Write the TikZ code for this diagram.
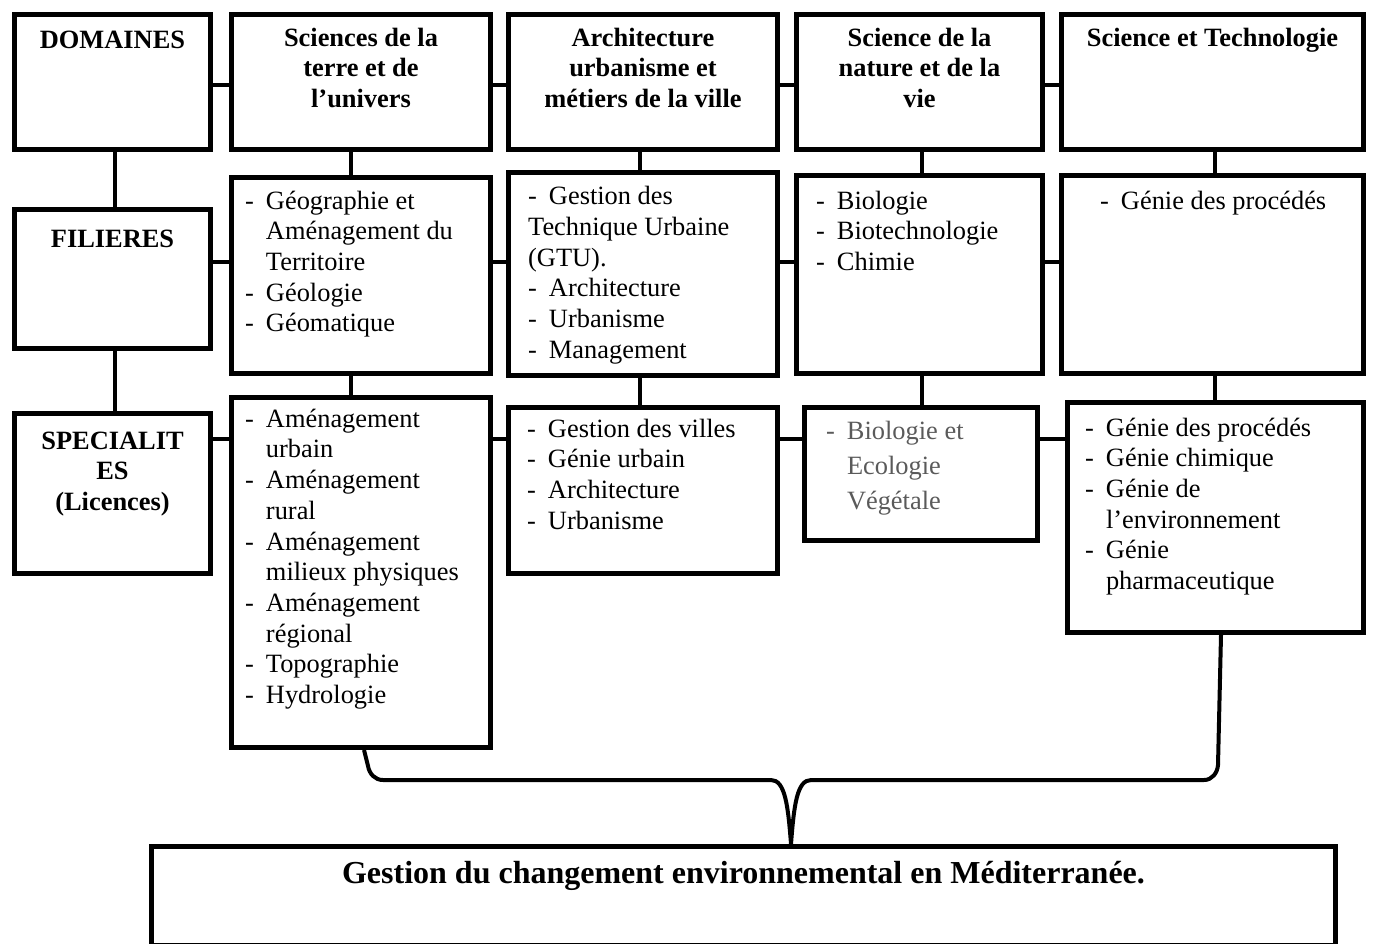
\documentclass[tikz,border=0pt]{standalone}
\usepackage{fontspec}
\setmainfont{Liberation Serif}
\usetikzlibrary{calc}
\definecolor{specgray}{HTML}{5A5A5A}
\tikzset{cell/.style={draw,line width=5pt,anchor=north west,inner sep=0pt},
  link/.style={line width=4pt},
  head/.style={anchor=north,inner sep=0pt,font=\bfseries\fontsize{26.4}{30.7}\selectfont},
  item/.style={anchor=north west,inner sep=0pt,font=\fontsize{26.4}{30.7}\selectfont}}
\newcommand{\lst}[1]{\begin{tabular}{@{}l@{\hspace{12pt}}l@{}}#1\end{tabular}}
\newcommand{\ctr}[1]{\begin{tabular}{@{}c@{}}#1\end{tabular}}

\begin{document}
\begin{tikzpicture}[x=1pt,y=-1pt]
  \useasboundingbox (0,0) rectangle (1373,943);

  \coordinate (v0) at (115,0);
  \coordinate (v1) at (351,0);
  \coordinate (v2) at (640,0);
  \coordinate (v3) at (922,0);
  \coordinate (v4) at (1215,0);
  \coordinate (r1) at (0,85);
  \coordinate (r2) at (0,262);
  \coordinate (r3) at (0,439);

  % left column
  \node[cell,minimum width=196pt,minimum height=135pt] (dom) at (12,12) {};
  \node[cell,minimum width=196pt,minimum height=139pt] (fil) at (12,207) {};
  \node[cell,minimum width=196pt,minimum height=160pt] (spe) at (12,411) {};
  \node[head] (domtxt) at ([yshift=-14.5pt]dom.north) {\ctr{DOMAINES}};
  \node[head] (filtxt) at ([yshift=-18.5pt]fil.north) {\ctr{FILIERES}};
  \node[head] (spetxt) at ([yshift=-16.5pt]spe.north) {\ctr{SPECIALIT\\ES\\(Licences)}};

  % domaines
  \node[cell,minimum width=259pt,minimum height=135pt] (t1) at (229,12) {};
  \node[cell,minimum width=269pt,minimum height=135pt] (t2) at (506,12) {};
  \node[cell,minimum width=246pt,minimum height=135pt] (t3) at (794,12) {};
  \node[cell,minimum width=302pt,minimum height=135pt] (t4) at (1059,12) {};
  \node[head] (t1txt) at ([yshift=-12.5pt]t1.north) {\ctr{Sciences de la\\terre et de\\l’univers}};
  \node[head] (t2txt) at ([yshift=-12.5pt]t2.north) {\ctr{Architecture\\urbanisme et\\métiers de la ville}};
  \node[head] (t3txt) at ([yshift=-12.5pt]t3.north) {\ctr{Science de la\\nature et de la\\vie}};
  \node[head] (t4txt) at ([yshift=-12.5pt]t4.north) {\ctr{Science et Technologie}};

  % filieres
  \node[cell,minimum width=259pt,minimum height=196pt] (f1) at (229,175) {};
  \node[cell,minimum width=269pt,minimum height=203pt] (f2) at (506,170) {};
  \node[cell,minimum width=246pt,minimum height=198pt] (f3) at (794,173) {};
  \node[cell,minimum width=302pt,minimum height=198pt] (f4) at (1059,173) {};
  \node[item] (f1txt) at ([xshift=16pt,yshift=-12.5pt]f1.north west)
    {\lst{- & Géographie et\\ & Aménagement du\\ & Territoire\\- & Géologie\\- & Géomatique}};
  \node[item] (f2txt) at ([xshift=22pt,yshift=-13pt]f2.north west)
    {\lst{- & Gestion des\\\multicolumn{2}{@{}l@{}}{Technique Urbaine}\\\multicolumn{2}{@{}l@{}}{(GTU).}\\- & Architecture\\- & Urbanisme\\- & Management}};
  \node[item] (f3txt) at ([xshift=22pt,yshift=-14.5pt]f3.north west)
    {\lst{- & Biologie\\- & Biotechnologie\\- & Chimie}};
  \node[item] (f4txt) at ([xshift=41pt,yshift=-14.5pt]f4.north west)
    {\lst{- & Génie des procédés}};

  % specialites
  \node[cell,minimum width=259pt,minimum height=350pt] (s1) at (229,395) {};
  \node[cell,minimum width=269pt,minimum height=166pt] (s2) at (506,405) {};
  \node[cell,minimum width=233pt,minimum height=133pt] (s3) at (802,405) {};
  \node[cell,minimum width=296pt,minimum height=230pt] (s4) at (1065,400) {};
  \node[item] (s1txt) at ([xshift=16pt,yshift=-10.5pt]s1.north west)
    {\lst{- & Aménagement\\ & urbain\\- & Aménagement\\ & rural\\- & Aménagement\\ & milieux physiques\\- & Aménagement\\ & régional\\- & Topographie\\- & Hydrologie}};
  \node[item] (s2txt) at ([xshift=21pt,yshift=-10.5pt]s2.north west)
    {\lst{- & Gestion des villes\\- & Génie urbain\\- & Architecture\\- & Urbanisme}};
  \node[item,font=\color{specgray}\fontsize{26.4}{35}\selectfont] (s3txt) at ([xshift=24pt,yshift=-9.5pt]s3.north west)
    {\lst{- & Biologie et\\ & Ecologie\\ & Végétale}};
  \node[item] (s4txt) at ([xshift=20pt,yshift=-14.5pt]s4.north west)
    {\lst{- & Génie des procédés\\- & Génie chimique\\- & Génie de\\ & l’environnement\\- & Génie\\ & pharmaceutique}};

  % master
  \node[cell,minimum width=1184pt,minimum height=99pt] (bot) at (149,844) {};
  \node[anchor=base,inner sep=0pt,font=\bfseries\fontsize{32}{38}\selectfont] (bottxt)
    at ([yshift=-39pt]bot.north) {Gestion du changement environnemental en Méditerranée.};

  % rows
  \draw[link] (dom.east |- r1) -- (t1.west |- r1);
  \draw[link] (t1.east |- r1) -- (t2.west |- r1);
  \draw[link] (t2.east |- r1) -- (t3.west |- r1);
  \draw[link] (t3.east |- r1) -- (t4.west |- r1);
  \draw[link] (fil.east |- r2) -- (f1.west |- r2);
  \draw[link] (f1.east |- r2) -- (f2.west |- r2);
  \draw[link] (f2.east |- r2) -- (f3.west |- r2);
  \draw[link] (f3.east |- r2) -- (f4.west |- r2);
  \draw[link] (spe.east |- r3) -- (s1.west |- r3);
  \draw[link] (s1.east |- r3) -- (s2.west |- r3);
  \draw[link] (s2.east |- r3) -- (s3.west |- r3);
  \draw[link] (s3.east |- r3) -- (s4.west |- r3);

  % columns
  \draw[link] (dom.south -| v0) -- (fil.north -| v0);
  \draw[link] (fil.south -| v0) -- (spe.north -| v0);
  \draw[link] (t1.south -| v1) -- (f1.north -| v1);
  \draw[link] (f1.south -| v1) -- (s1.north -| v1);
  \draw[link] (t2.south -| v2) -- (f2.north -| v2);
  \draw[link] (f2.south -| v2) -- (s2.north -| v2);
  \draw[link] (t3.south -| v3) -- (f3.north -| v3);
  \draw[link] (f3.south -| v3) -- (s3.north -| v3);
  \draw[link] (t4.south -| v4) -- (f4.north -| v4);
  \draw[link] (f4.south -| v4) -- (s4.north -| v4);

  % brace
  \coordinate (bl) at (364,0);
  \coordinate (br) at (1221,0);
  \coordinate (tip) at (791,0);
  \draw[link] (s1.south -| bl) -- (368,766) to[out=-80,in=180] (383,780) -- (771,780)
    .. controls (785,780) and (788,805) .. (bot.north -| tip)
    .. controls (794,805) and (797,780) .. (811,780) -- (1204,780)
    to[out=0,in=-95] (1218,765) -- (s4.south -| br);
\end{tikzpicture}
\end{document}
